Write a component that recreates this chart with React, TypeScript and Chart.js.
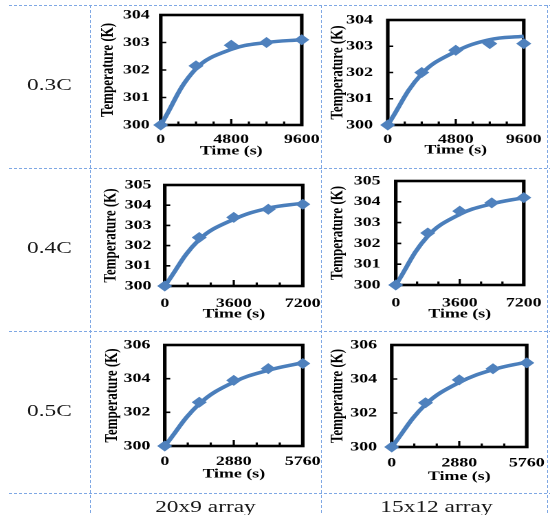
import React, { useEffect, useRef } from "react";
import { Chart, registerables } from "chart.js";

Chart.register(...registerables);

// Sampling times (s) for each C-rate
const times03C = [0, 2400, 4800, 7200, 9600];
const times04C = [0, 1800, 3600, 5400, 7200];
const times05C = [0, 1440, 2880, 4320, 5760];

// Cell temperature (K) at the sampling times (diamond markers)
const temp03C_20x9 = [300, 302.15, 302.9, 303.0, 303.1];
const temp03C_15x12 = [300, 302.0, 302.85, 303.1, 303.1];
const temp04C_20x9 = [300, 302.4, 303.4, 303.8, 304.05];
const temp04C_15x12 = [300, 302.5, 303.55, 303.95, 304.2];
const temp05C_20x9 = [300, 302.6, 303.9, 304.6, 304.9];
const temp05C_15x12 = [300, 302.6, 303.95, 304.6, 304.95];

// Smoothed trend curve (K) at the same times
const trend03C_20x9 = [300, 302.05, 302.75, 303.0, 303.1];
const trend03C_15x12 = [300, 301.95, 302.8, 303.25, 303.38];
const trend04C_20x9 = [300, 302.3, 303.3, 303.85, 304.1];
const trend04C_15x12 = [300, 302.35, 303.4, 303.9, 304.2];
const trend05C_20x9 = [300, 302.5, 303.8, 304.5, 304.95];
const trend05C_15x12 = [300, 302.5, 303.8, 304.55, 305.0];

// Axis settings per row
const rateLabels = ["0.3C", "0.4C", "0.5C"];
const arrayLabels = ["20x9 array", "15x12 array"];
const timeAxisMax = [9600, 7200, 5760];
const timeLabelStep = [4800, 3600, 2880];
const timeMinorStep = [1200, 1200, 960];
const tempAxisMax = [304, 305, 306];
const tempLabelStep = [1, 1, 2];
const TEMP_MIN = 300;

const rowTimes = [times03C, times04C, times05C];
const panelSeries = [
  [[temp03C_20x9, trend03C_20x9], [temp03C_15x12, trend03C_15x12]],
  [[temp04C_20x9, trend04C_20x9], [temp04C_15x12, trend04C_15x12]],
  [[temp05C_20x9, trend05C_20x9], [temp05C_15x12, trend05C_15x12]],
];

// ---- layout (page pixels) ----
const S = 550 / 400; // horizontal stretch of the whole sheet
const SERIF = '"Liberation Serif", "Times New Roman", Times, serif';
const MARKER = "#4f81bd";
const LINE = "#4a7ebb";
const GRID_BLUE = "#7fa8e4";

const canvasCols = [
  [91, 336],
  [322, 550],
];
const canvasRows = [
  [6, 168],
  [169, 331],
  [332, 494],
];

// plot box [left, right, top, bottom], axis title centres, label gaps
const panelFrames = [
  [
    { box: [161, 302, 15, 125], yTitleX: 108.3, xTitleY: 151, xTickOffset: 14.5, yTickGap: 11 },
    { box: [388, 524, 20, 125], yTitleX: 338.3, xTitleY: 150, xTickOffset: 14.5, yTickGap: 14.7 },
  ],
  [
    { box: [165, 303, 185, 286], yTitleX: 111, xTitleY: 314, xTickOffset: 17.5, yTickGap: 13.3 },
    { box: [396, 524, 181, 285], yTitleX: 338.3, xTitleY: 314, xTickOffset: 18, yTickGap: 15.3 },
  ],
  [
    { box: [165, 303, 345, 446], yTitleX: 112.7, xTitleY: 474, xTickOffset: 15.7, yTickGap: 14.3 },
    { box: [392, 527, 345, 447], yTitleX: 338.3, xTitleY: 476.7, xTickOffset: 16, yTickGap: 14.7 },
  ],
];

// Black frame with inward tick marks
const frameAndTicks = {
  id: "frameAndTicks",
  beforeDatasetsDraw(chart: any, _args: any, opts: any) {
    const { ctx, chartArea: a, scales } = chart;
    const xs = scales.x;
    const ys = scales.y;
    ctx.save();
    ctx.strokeStyle = "#000";
    ctx.lineWidth = 1.6;
    ctx.beginPath();
    for (const t of ys.ticks) {
      const py = ys.getPixelForValue(t.value);
      ctx.moveTo(a.left, py);
      ctx.lineTo(a.left + 4, py);
    }
    for (let v = xs.min; v <= xs.max + 1e-6; v += opts.minorStep) {
      const px = xs.getPixelForValue(v);
      const len = Math.abs(v % opts.majorStep) < 1e-6 ? 6 : 3.5;
      ctx.moveTo(px, a.bottom);
      ctx.lineTo(px, a.bottom - len);
    }
    ctx.stroke();
    ctx.lineWidth = 2.6;
    ctx.strokeRect(a.left, a.top, a.right - a.left, a.bottom - a.top);
    ctx.restore();
  },
};

function Panel({ row, col }: { row: number; col: number }) {
  const ref = useRef<HTMLCanvasElement | null>(null);
  const f = panelFrames[row][col];
  const [cx0, cx1] = canvasCols[col];
  const [cy0, cy1] = canvasRows[row];
  const [bl, br, bt, bb] = f.box;
  const w = Math.round((cx1 - cx0) / S);
  const h = cy1 - cy0;

  useEffect(() => {
    const canvas = ref.current;
    if (!canvas) return;
    const times = rowTimes[row];
    const [temps, trend] = panelSeries[row][col];
    const tickFont = { family: SERIF, size: 13, weight: "bold" as const };
    const yAxisW = (bl - cx0) / S;
    const padRight = w - (br - cx0) / S;
    const xAxisH = cy1 - bb;

    const chart = new Chart(canvas, {
      type: "scatter",
      data: {
        datasets: [
          {
            data: times.map((t, i) => ({ x: t, y: temps[i] })),
            showLine: false,
            pointStyle: "rectRot",
            pointRadius: 5.5,
            pointHoverRadius: 5.5,
            backgroundColor: MARKER,
            borderColor: MARKER,
            borderWidth: 0,
            clip: false,
          },
          {
            data: times.map((t, i) => ({ x: t, y: trend[i] })),
            showLine: true,
            pointRadius: 0,
            borderColor: LINE,
            borderWidth: 3.5,
            tension: 0.4,
            fill: false,
            clip: false,
          },
        ],
      },
      options: {
        animation: false,
        responsive: false,
        devicePixelRatio: 2,
        events: [],
        layout: {
          autoPadding: false,
          padding: { left: 0, top: bt - cy0, right: padRight, bottom: 0 },
        },
        plugins: {
          legend: { display: false },
          tooltip: { enabled: false },
          frameAndTicks: { minorStep: timeMinorStep[row], majorStep: timeLabelStep[row] },
        } as any,
        scales: {
          x: {
            type: "linear",
            position: "bottom",
            min: 0,
            max: timeAxisMax[row],
            ticks: {
              stepSize: timeLabelStep[row],
              padding: f.xTickOffset - 7.8,
              color: "#000",
              font: tickFont,
              maxRotation: 0,
              autoSkip: false,
              callback: (v: any) => String(v),
            },
            grid: { display: false, drawTicks: false },
            border: { display: false },
            title: {
              display: true,
              text: "Time (s)",
              color: "#000",
              font: { family: SERIF, size: 13, weight: "bold" },
              padding: { top: 0, bottom: cy1 - f.xTitleY - 7.8 },
            },
            afterFit: (s: any) => {
              s.height = xAxisH;
              s.paddingLeft = 0;
              s.paddingRight = 0;
            },
          },
          y: {
            type: "linear",
            position: "left",
            min: TEMP_MIN,
            max: tempAxisMax[row],
            ticks: {
              stepSize: tempLabelStep[row],
              padding: f.yTickGap / S,
              color: "#000",
              font: tickFont,
              autoSkip: false,
              callback: (v: any) => String(v),
            },
            grid: { display: false, drawTicks: false },
            border: { display: false },
            title: {
              display: true,
              text: "Temperature (K)",
              color: "#000",
              font: { family: SERIF, size: 13, weight: "bold" },
              padding: { top: (f.yTitleX - cx0) / S - 7.8, bottom: 0 },
            },
            afterFit: (s: any) => {
              s.width = yAxisW;
              s.paddingTop = 0;
              s.paddingBottom = 0;
            },
          },
        },
      } as any,
      plugins: [frameAndTicks],
    });
    return () => chart.destroy();
  }, [row, col]);

  return (
    <canvas
      ref={ref}
      width={w}
      height={h}
      style={{ position: "absolute", left: cx0 / S, top: cy0, width: w, height: h }}
    />
  );
}

function HLine({ y, x0, x1 }: { y: number; x0: number; x1: number }) {
  return (
    <div
      style={{
        position: "absolute",
        left: x0,
        top: y,
        width: x1 - x0,
        height: 1,
        background: `repeating-linear-gradient(to right, ${GRID_BLUE} 0 3px, transparent 3px 5px)`,
      }}
    />
  );
}

function VLine({ x, y0, y1 }: { x: number; y0: number; y1: number }) {
  return (
    <div
      style={{
        position: "absolute",
        left: x,
        top: y0,
        width: 1,
        height: y1 - y0,
        background: `repeating-linear-gradient(to bottom, ${GRID_BLUE} 0 3px, transparent 3px 5px)`,
      }}
    />
  );
}

const rowLabelTops = [76, 239, 401.5];
const colLabelBoxes = [
  [90, 321],
  [323, 550],
];

export default function App() {
  return (
    <div
      style={{
        position: "absolute",
        left: 0,
        top: 0,
        width: 550,
        height: 515,
        overflow: "hidden",
        background: "#fff",
      }}
    >
      <HLine y={5} x0={9} x1={550} />
      <HLine y={168} x0={9} x1={550} />
      <HLine y={331} x0={9} x1={550} />
      <HLine y={493} x0={9} x1={550} />
      <VLine x={90} y0={5} y1={515} />
      <VLine x={321} y0={5} y1={515} />
      <VLine x={547} y0={5} y1={515} />

      <div
        style={{
          position: "absolute",
          left: 0,
          top: 0,
          width: 400,
          height: 515,
          transform: `scaleX(${S})`,
          transformOrigin: "0 0",
        }}
      >
        {rateLabels.map((txt, r) => (
          <div
            key={txt}
            style={{
              position: "absolute",
              left: 9 / S,
              width: (90 - 9) / S,
              top: rowLabelTops[r],
              textAlign: "center",
              font: `17px ${SERIF}`,
              lineHeight: "17px",
              color: "#1a1a1a",
              whiteSpace: "nowrap",
            }}
          >
            {txt}
          </div>
        ))}
        {arrayLabels.map((txt, c) => (
          <div
            key={txt}
            style={{
              position: "absolute",
              left: colLabelBoxes[c][0] / S,
              width: (colLabelBoxes[c][1] - colLabelBoxes[c][0]) / S,
              top: 497.5,
              textAlign: "center",
              font: `17px ${SERIF}`,
              lineHeight: "17px",
              color: "#1a1a1a",
              whiteSpace: "nowrap",
            }}
          >
            {txt}
          </div>
        ))}
        {[0, 1, 2].map((r) =>
          [0, 1].map((c) => <Panel key={`${r}-${c}`} row={r} col={c} />)
        )}
      </div>
    </div>
  );
}
